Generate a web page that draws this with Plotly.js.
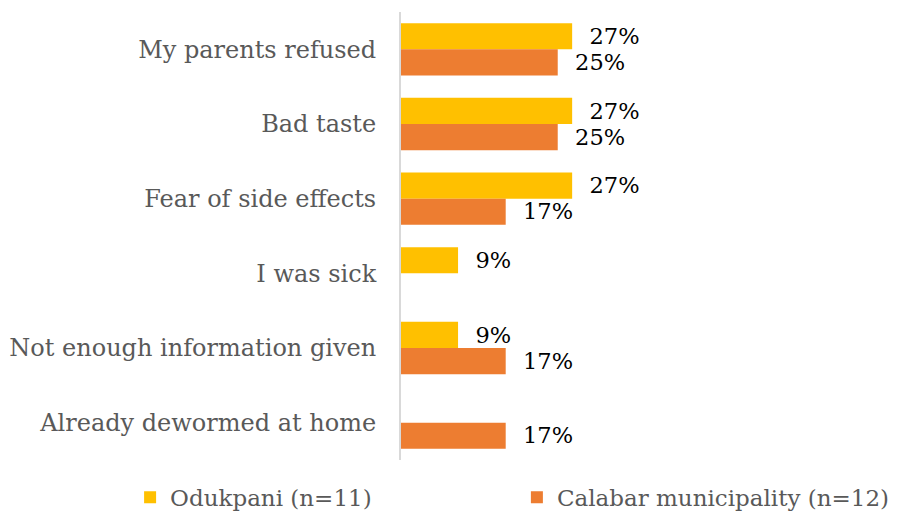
<!DOCTYPE html>
<html>
<head>
<meta charset="utf-8">
<script src="https://cdn.plot.ly/plotly-3.0.1.min.js"></script>
<style>html,body{margin:0;padding:0;background:#fff;}#chart{width:903px;height:513px;}</style>
</head>
<body>
<div id="chart"></div>
<script>
const categories = ["My parents refused", "Bad taste", "Fear of side effects", "I was sick", "Not enough information given", "Already dewormed at home"];
const odukpani = [27.3, 27.3, 27.3, 9.1, 9.1, 0];
const calabar = [25.0, 25.0, 16.7, 0, 16.7, 16.7];
const seriesNames = ["Odukpani (n=11)", "Calabar municipality (n=12)"];

const fmt = v => v > 0 ? "\u00a0\u00a0" + Math.round(v) + "%" : "";
const FONT = "DejaVu Serif";
const legendFont = {family: FONT, size: 23, color: "#595959"};

const traces = [
  {type: "bar", orientation: "h", name: seriesNames[0], y: categories, x: odukpani,
   marker: {color: "#FFC000"}, text: odukpani.map(fmt), textposition: "outside",
   textfont: {family: FONT, size: 25, color: "#000"}, cliponaxis: false, hoverinfo: "none",
   legend: "legend"},
  {type: "bar", orientation: "h", name: seriesNames[1], y: categories, x: calabar,
   marker: {color: "#ED7D31"}, text: calabar.map(fmt), textposition: "outside",
   textfont: {family: FONT, size: 25, color: "#000"}, cliponaxis: false, hoverinfo: "none",
   legend: "legend2"}
];

const layout = {
  width: 903, height: 513,
  margin: {l: 401, r: 13, t: 12, b: 53, autoexpand: false},
  paper_bgcolor: "#fff", plot_bgcolor: "#fff",
  barmode: "group", bargap: 0.3, bargroupgap: 0,
  font: {family: FONT, color: "#595959", size: 24},
  xaxis: {range: [0, 78], visible: false, showgrid: false, zeroline: false},
  yaxis: {autorange: "reversed", showline: true, linecolor: "#d9d9d9", linewidth: 2,
          ticks: "", ticklabelstandoff: 18, showgrid: false,
          tickfont: {family: FONT, size: 24, color: "#595959"}},
  showlegend: true,
  legend: {orientation: "h", x: -0.554, xanchor: "left", y: -0.083, yanchor: "middle",
           itemwidth: 30, font: legendFont},
  legend2: {orientation: "h", x: 0.237, xanchor: "left", y: -0.083, yanchor: "middle",
           itemwidth: 30, font: legendFont}
};

Plotly.newPlot("chart", traces, layout, {staticPlot: true, displayModeBar: false});
</script>
</body>
</html>
